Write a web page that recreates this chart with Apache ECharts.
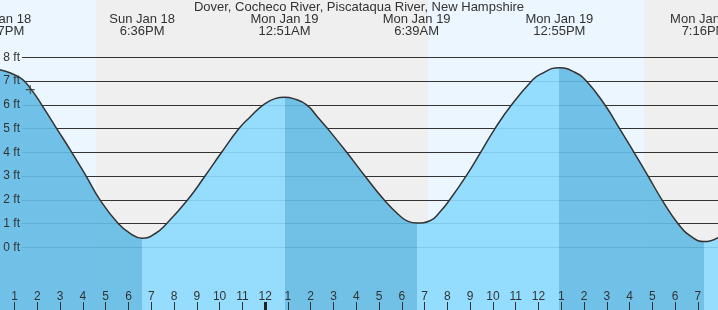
<!DOCTYPE html>
<html>
<head>
<meta charset="utf-8">
<script src="https://cdn.jsdelivr.net/npm/echarts@6/dist/echarts.min.js"></script>
<style>
html,body{margin:0;padding:0;background:#fff;}
#chart{width:718px;height:310px;}
</style>
</head>
<body>
<div id="chart"></div>
<script>
// ---- data (hours counted from Sun Jan 18 00:00) ----
const titleText = 'Dover, Cocheco River, Piscataqua River, New Hampshire';
const tideTimes = [12.283, 18.6, 24.85, 30.65, 36.917, 43.267];
const tideLabels = ['Sun Jan 18\n12:17PM', 'Sun Jan 18\n6:36PM', 'Mon Jan 19\n12:51AM', 'Mon Jan 19\n6:39AM', 'Mon Jan 19\n12:55PM', 'Mon Jan 19\n7:16PM'];
const tideHeights = [7.5, 0.38, 6.32, 1.02, 7.56, 0.24];

const curveHours = [12.36, 13.24, 13.71, 14.19, 14.85, 15.51, 16.14, 16.75, 17.55, 18.07, 18.60, 19.16, 19.68, 20.60, 21.36, 22.09, 22.85, 23.34, 23.92, 24.43, 24.85, 25.24, 25.82, 26.30, 26.74, 27.58, 28.38, 29.22, 29.92, 30.28, 30.65, 31.24, 31.68, 32.10, 32.82, 33.46, 34.09, 34.82, 35.70, 36.07, 36.92, 37.59, 38.10, 38.91, 39.56, 40.19, 40.81, 41.42, 42.12, 42.71, 43.27, 43.88];
const curveFeet  = [7.48, 7.14, 6.67, 6.0, 5.0, 4.0, 3.0, 2.0, 1.0, 0.59, 0.38, 0.57, 1.0, 2.0, 3.0, 4.0, 5.0, 5.49, 6.0, 6.26, 6.32, 6.26, 6.0, 5.49, 5.0, 4.0, 3.0, 2.0, 1.32, 1.09, 1.02, 1.12, 1.5, 2.0, 3.0, 4.0, 5.0, 6.0, 7.0, 7.28, 7.56, 7.37, 7.0, 6.0, 5.0, 4.0, 3.0, 2.0, 1.0, 0.45, 0.24, 0.41];

const nowPoint = [13.69, 6.64];

const hourTicks  = [13,14,15,16,17,18,19,20,21,22,23,24,25,26,27,28,29,30,31,32,33,34,35,36,37,38,39,40,41,42,43];
const hourLabels = ['1','2','3','4','5','6','7','8','9','10','11','12','1','2','3','4','5','6','7','8','9','10','11','12','1','2','3','4','5','6','7'];
const midnightTicks = [24];

const feetTicks = [0,1,2,3,4,5,6,7,8];

// day (light) / night (gray) bands
const bandStarts = [12.36, 16.57, 31.15, 40.63];
const bandEnds   = [16.57, 31.15, 40.63, 43.88];
const bandIsDay  = [true, false, true, false];

const xMin = 12.36, xMax = 43.88;

// ---- layout ----
const W = 718, H = 310;
const gridATop = 57.3, gridAHeight = 190, gridALeft = 22;
const pxPerFt = gridAHeight / 8;
const yMaxB = 8 + gridATop / pxPerFt;
const yMinB = -(H - gridATop - gridAHeight) / pxPerFt;

const FONT = 'Liberation Sans, Arial, sans-serif';
const TXT = '#333';
const DARK = 'rgba(99,187,229,0.9)';
const LIGHT = 'rgba(139,218,255,0.9)';

// gradient stops for ebb (dark) / flood (light)
const span = xMax - xMin;
const stops = [];
for (let i = 0; i < tideTimes.length; i++) {
  const s = Math.max(tideTimes[i], xMin);
  const e = i + 1 < tideTimes.length ? Math.min(tideTimes[i + 1], xMax) : xMax;
  if (e <= xMin || s >= xMax) continue;
  const falling = i + 1 < tideTimes.length ? tideHeights[i + 1] < tideHeights[i] : tideHeights[i] > tideHeights[i - 1];
  const c = falling ? DARK : LIGHT;
  stops.push({offset: (s - xMin) / span, color: c});
  stops.push({offset: (e - xMin) / span, color: c});
}

const chart = echarts.init(document.getElementById('chart'), null, {renderer: 'canvas'});
const option = {
  animation: false,
  title: {
    text: titleText, left: 'center', top: 1, padding: 0,
    textStyle: {fontSize: 13, fontWeight: 'normal', color: TXT, fontFamily: FONT}
  },
  grid: [
    {left: gridALeft, right: 0, top: gridATop, height: gridAHeight},
    {left: 0, right: 0, top: 0, bottom: 0}
  ],
  xAxis: [
    {type: 'value', gridIndex: 0, min: 0, max: 1, show: false},
    {type: 'value', gridIndex: 1, min: xMin, max: xMax, z: 6, position: 'bottom',
      axisLine: {show: false, onZero: false}, splitLine: {show: false},
      axisTick: {show: true, inside: true, length: 8, customValues: hourTicks, lineStyle: {color: TXT, width: 1}},
      axisLabel: {show: true, inside: true, margin: 7, customValues: hourTicks, color: TXT, fontSize: 12, fontFamily: FONT,
        formatter: v => { const i = hourTicks.indexOf(Math.round(v)); return i >= 0 ? hourLabels[i] : ''; }}
    },
    {type: 'value', gridIndex: 1, min: xMin, max: xMax, z: 6, position: 'bottom',
      axisLine: {show: false, onZero: false}, splitLine: {show: false}, axisLabel: {show: false},
      axisTick: {show: true, inside: true, length: 8, customValues: midnightTicks, lineStyle: {color: '#222', width: 3}}
    }
  ],
  yAxis: [
    {type: 'value', gridIndex: 0, min: 0, max: 8, interval: 1, z: 3, position: 'left',
      axisLine: {show: false}, axisTick: {show: false}, axisLabel: {show: false},
      splitLine: {show: true, lineStyle: {color: '#333', width: 1}}},
    {type: 'value', gridIndex: 0, min: 0, max: 8, interval: 1, z: 6, position: 'left', offset: 0,
      axisLine: {show: false}, axisTick: {show: false}, splitLine: {show: false},
      axisLabel: {show: true, margin: 2, color: TXT, fontSize: 12, fontFamily: FONT,
        formatter: v => feetTicks.indexOf(v) >= 0 ? v + ' ft' : ''}},
    {type: 'value', gridIndex: 1, min: yMinB, max: yMaxB, show: false}
  ],
  series: [
    {
      type: 'line', xAxisIndex: 1, yAxisIndex: 2, z: 1, data: [], silent: true,
      markArea: {
        silent: true,
        data: bandStarts.map((s, i) => [
          {xAxis: s, itemStyle: {color: bandIsDay[i] ? '#ebf6fe' : '#efefef'}},
          {xAxis: bandEnds[i]}
        ])
      }
    },
    {
      type: 'line', xAxisIndex: 1, yAxisIndex: 2, z: 4, smooth: true, symbol: 'none', silent: true,
      data: curveHours.map((h, i) => [h, curveFeet[i]]),
      lineStyle: {color: '#333', width: 1.5},
      areaStyle: {origin: 'start', opacity: 1, color: new echarts.graphic.LinearGradient(0, 0, 1, 0, stops)}
    },
    {
      type: 'scatter', xAxisIndex: 1, yAxisIndex: 2, z: 7, silent: true,
      symbol: 'path://M0,4.4H10V5.6H0ZM4.4,0H5.6V10H4.4Z', symbolSize: 9,
      itemStyle: {color: '#333'},
      data: [nowPoint]
    }
  ]
};
chart.setOption(option);

// tide event labels at the top, positioned through the x axis scale
chart.setOption({
  graphic: tideTimes.map((t, i) => ({
    type: 'text', z: 10, silent: true,
    x: chart.convertToPixel({xAxisIndex: 1}, t),
    y: 13,
    style: {text: tideLabels[i], fill: TXT, font: '13px ' + FONT, textAlign: 'center', textVerticalAlign: 'top', lineHeight: 12}
  }))
});
</script>
</body>
</html>
